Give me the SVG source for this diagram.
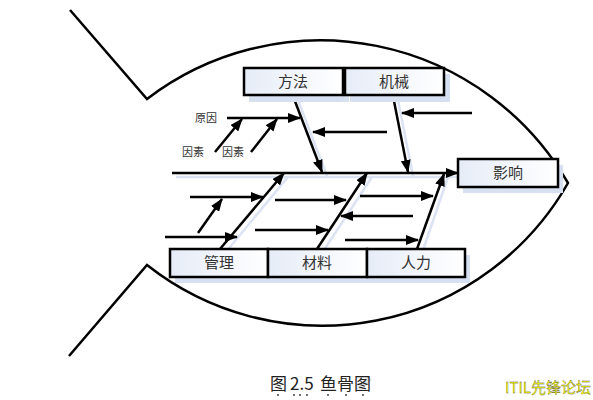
<svg xmlns="http://www.w3.org/2000/svg" width="593" height="400" viewBox="0 0 593 400">
<style>
.outline{fill:none;stroke:#000;stroke-width:2.5}
.box{stroke:#000;stroke-width:2.5;fill:url(#bg)}
.shadow{fill:#d7e0f0}
.lbl{font-family:"Noto Sans CJK SC","Noto Sans CJK TC",sans-serif;font-size:15px;fill:#333;text-anchor:middle}
.sm{font-family:"Noto Sans CJK SC",sans-serif;font-size:11px;fill:#333}
.cap{font-family:"Noto Sans CJK SC",sans-serif;font-size:17px;fill:#222}
.ln{stroke:#000;stroke-width:2.5;fill:none}
.arr{marker-end:url(#ah)}
.sh{stroke:#dbe3f2;stroke-width:2.5;fill:none}
</style>
<defs>
<linearGradient id="bg" x1="0" y1="0" x2="1" y2="0">
<stop offset="0" stop-color="#e6ecf7"/>
<stop offset="1" stop-color="#ffffff"/>
</linearGradient>
<marker id="ah" markerUnits="userSpaceOnUse" markerWidth="13" markerHeight="10" refX="12" refY="5" orient="auto">
<path d="M0,0 L13,5 L0,10 z" fill="#000"/>
</marker>
</defs>
<rect width="593" height="400" fill="#fff"/>
<g id="fish">
<path class="outline" d="M70,10 L147,99 A286,286 0 0 1 568,183 A283,283 0 0 1 147,265 L69,356"/>
</g>
<g id="shadows">
<line class="sh" x1="176" y1="177" x2="458" y2="177"/>
<line class="sh" x1="298" y1="100" x2="327" y2="176"/>
<line class="sh" x1="398" y1="100" x2="413" y2="176"/>
<line class="sh" x1="225" y1="253" x2="288" y2="177"/>
<line class="sh" x1="322" y1="253" x2="372" y2="177"/>
<line class="sh" x1="422" y1="253" x2="448" y2="177"/>
<polygon points="356,388 368,376 372,380 360,392" fill="#e4e4e4"/>
</g>
<g id="connectors">
<line class="ln arr" x1="172" y1="173" x2="458" y2="173"/>
<line class="ln arr" x1="293" y1="96" x2="322" y2="172"/>
<line class="ln arr" x1="393" y1="96" x2="408" y2="172"/>
<line class="ln arr" x1="227" y1="118" x2="300" y2="118"/>
<line class="ln arr" x1="215" y1="152" x2="242" y2="119"/>
<line class="ln arr" x1="251" y1="152" x2="277" y2="119"/>
<line class="ln arr" x1="387" y1="132" x2="313" y2="132"/>
<line class="ln arr" x1="472" y1="113" x2="402" y2="113"/>
<line class="ln arr" x1="220" y1="249" x2="284" y2="173"/>
<line class="ln arr" x1="317" y1="249" x2="367" y2="173"/>
<line class="ln arr" x1="417" y1="249" x2="444" y2="174"/>
<line class="ln arr" x1="190" y1="197" x2="263" y2="197"/>
<line class="ln arr" x1="198" y1="233" x2="222" y2="199"/>
<line class="ln arr" x1="165" y1="237" x2="237" y2="237"/>
<line class="ln arr" x1="275" y1="200" x2="346" y2="200"/>
<line class="ln arr" x1="255" y1="230" x2="328" y2="230"/>
<line class="ln arr" x1="360" y1="196" x2="433" y2="196"/>
<line class="ln arr" x1="413" y1="216" x2="341" y2="216"/>
<line class="ln arr" x1="345" y1="240" x2="418" y2="240"/>
</g>
<g id="labels">
<text class="sm" x="195" y="122">原因</text>
<text class="sm" x="182" y="156">因素</text>
<text class="sm" x="222" y="156">因素</text>
</g>
<g id="n-fangfa">
<rect class="shadow" x="249" y="74" width="100" height="28"/>
<rect class="box" x="244" y="68" width="99" height="27"/>
<text class="lbl" x="293" y="87">方法</text>
</g>
<g id="n-jixie">
<rect class="shadow" x="350" y="74" width="100" height="28"/>
<rect class="box" x="345" y="68" width="99" height="27"/>
<text class="lbl" x="394" y="87">机械</text>
</g>
<g id="n-yingxiang">
<rect class="shadow" x="463" y="165" width="100" height="28"/>
<rect class="box" x="458" y="159" width="100" height="28"/>
<text class="lbl" x="508" y="178">影响</text>
</g>
<g id="n-guanli">
<rect class="shadow" x="175" y="255" width="98" height="28"/>
<rect class="box" x="170" y="249" width="98" height="28"/>
<text class="lbl" x="219" y="268">管理</text>
</g>
<g id="n-cailiao">
<rect class="shadow" x="273" y="255" width="99" height="28"/>
<rect class="box" x="268" y="249" width="99" height="28"/>
<text class="lbl" x="317" y="268">材料</text>
</g>
<g id="n-renli">
<rect class="shadow" x="372" y="255" width="98" height="28"/>
<rect class="box" x="367" y="249" width="98" height="28"/>
<text class="lbl" x="416" y="268">人力</text>
</g>
<g id="caption">
<text class="cap" y="390"><tspan x="270">图</tspan><tspan x="290">2.5</tspan><tspan x="320">鱼骨图</tspan></text>
<g fill="#444">
<circle cx="278" cy="395" r="1"/><circle cx="294" cy="395" r="1"/><circle cx="300" cy="395" r="1"/><circle cx="307" cy="395" r="1"/>
<circle cx="328" cy="395" r="1"/><circle cx="346" cy="395" r="1"/><circle cx="363" cy="395" r="1"/>
</g>
<text x="505" y="393" font-family="'Noto Sans CJK SC',sans-serif" font-size="15" fill="#ffff00" stroke="#444" stroke-width="0.3">ITIL先锋论坛</text>
</g>
</svg>
